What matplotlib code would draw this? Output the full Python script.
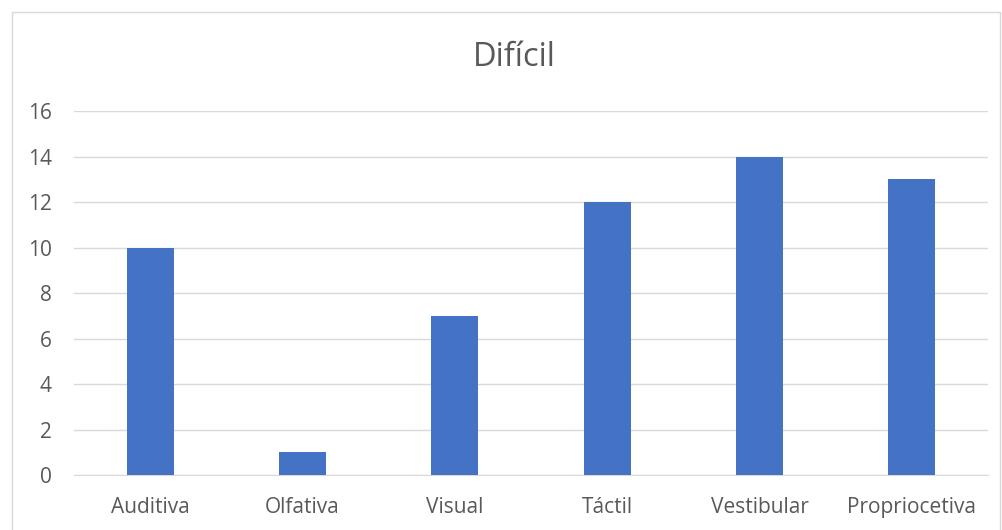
import matplotlib.pyplot as plt
from matplotlib.patches import Rectangle

categorias = ['Auditiva', 'Olfativa', 'Visual', 'Táctil', 'Vestibular', 'Propriocetiva']
valores = [10, 1, 7, 12, 14, 13]
yticks = [0, 2, 4, 6, 8, 10, 12, 14, 16]

plt.rcParams['font.family'] = ['Open Sans', 'DejaVu Sans']

fig = plt.figure(figsize=(10.03, 5.30), dpi=100)
ax = fig.add_axes([74 / 1003, 1 - 475 / 530, (988 - 74) / 1003, (475 - 111) / 530])

# borde exterior del gráfico
fig.patches.append(Rectangle((12 / 1003, -0.01), 988 / 1003, 1 - 12 / 530 + 0.01,
                             transform=fig.transFigure, fill=False,
                             edgecolor='#D9D9D9', linewidth=1))

x = range(len(categorias))
ax.bar(x, valores, width=0.31, color='#4472C4', zorder=3)

ax.set_xlim(-0.5, len(categorias) - 0.5)
ax.set_ylim(0, 16)
ax.set_yticks(yticks)
ax.set_xticks(list(x))
ax.set_xticklabels(categorias)
ax.grid(axis='y', color='#D9D9D9', linewidth=1, zorder=0)
for s in ['top', 'right', 'left']:
    ax.spines[s].set_visible(False)
ax.spines['bottom'].set_color('#D9D9D9')
ax.tick_params(length=0, labelsize=15, colors='#595959')
ax.tick_params(axis='y', pad=16)
ax.tick_params(axis='x', pad=16)

fig.text(514 / 1003, 1 - 58 / 530, 'Difícil', ha='center', va='center',
         fontsize=23.5, color='#595959')

fig.savefig('out.png', dpi=100)
